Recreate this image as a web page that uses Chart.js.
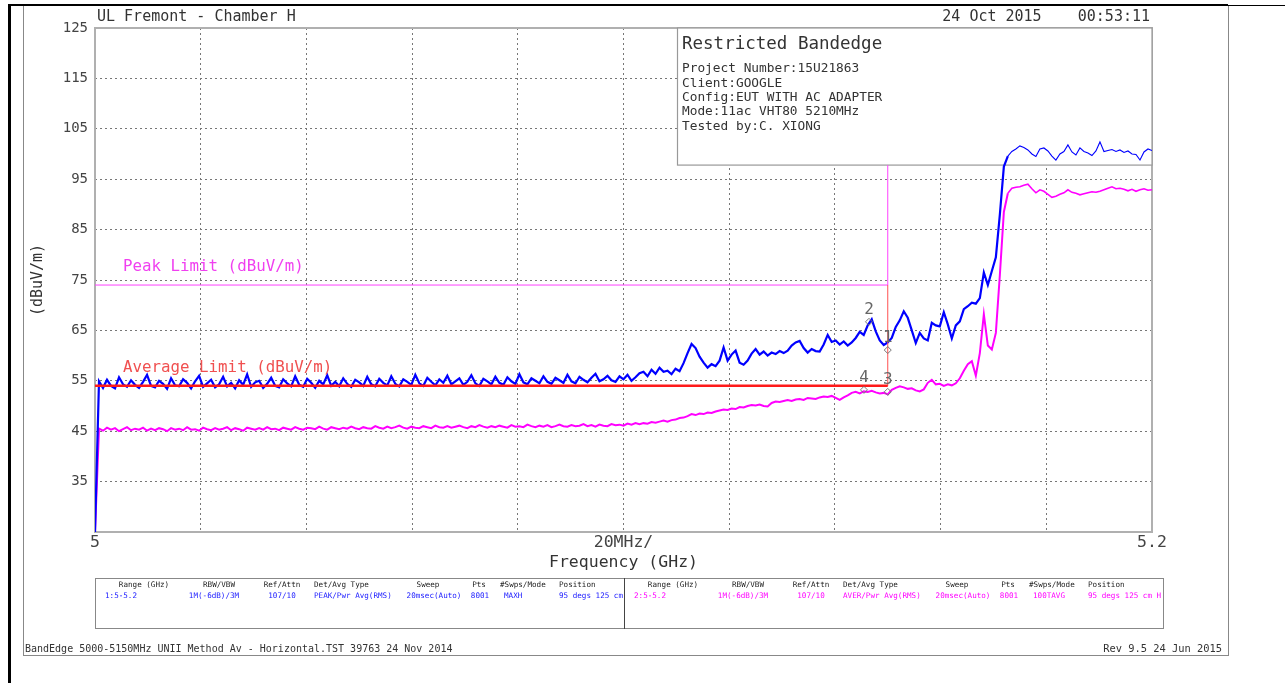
<!DOCTYPE html>
<html>
<head>
<meta charset="utf-8">
<title>Restricted Bandedge</title>
<script src="https://cdn.jsdelivr.net/npm/chart.js@4.4.1/dist/chart.umd.min.js"></script>
<style>
  html, body { margin: 0; padding: 0; background: #fff; }
  #wrap { width: 1285px; height: 683px; }
</style>
</head>
<body>
<div id="wrap"><canvas id="plot" width="1285" height="683"></canvas></div>
<script>
// sweep span (GHz) and level axis (dBuV/m)
const sweepStart = 5.0, sweepStop = 5.2;
const levelMin = 25, levelMax = 125;

// limits
const peakLimit = 74, avgLimit = 54, bandEdge = 5.15, limitTop = 97.8;

// trace 1: peak, max hold (blue)
const peakTrace = [
  25, 54.9, 53.6, 55.2, 54.0, 53.5, 55.7, 54.3, 53.8, 55.1,
  54.2, 53.6, 54.8, 56.2, 54.0, 53.7, 55.0, 54.4, 53.4, 55.5,
  54.1, 53.9, 55.3, 54.6, 53.5, 54.9, 56.0, 53.8, 54.5, 55.2,
  53.7, 54.3, 55.8, 53.9, 54.6, 53.5, 55.1, 54.2, 56.3, 53.8,
  54.7, 55.0, 53.6, 54.4, 55.6, 54.0, 53.7, 55.3, 54.5, 53.9,
  55.9, 54.2, 53.8, 55.4, 54.6, 53.6, 55.0, 54.3, 56.1, 54.0,
  54.8, 53.9, 55.5, 54.4, 53.8, 55.2, 54.7, 54.0, 55.8, 54.3,
  53.9, 55.4, 54.6, 54.1, 55.9, 54.4, 53.9, 55.3, 54.8, 54.2,
  56.2, 54.5, 54.0, 55.6, 54.8, 54.1, 55.3, 54.6, 56.0, 54.3,
  54.9, 55.5, 54.2, 54.8, 56.1, 54.5, 54.0, 55.4, 54.9, 54.3,
  55.8, 54.6, 54.2, 55.7, 54.9, 54.4, 56.3, 54.7, 54.3, 55.5,
  55.0, 54.5, 55.9, 54.8, 54.4, 55.6, 55.1, 54.6, 56.2, 54.9,
  54.5, 55.8, 55.2, 54.7, 55.6, 56.4, 54.9, 55.3, 56.0, 55.1,
  54.8, 55.9, 55.3, 56.2, 55.0, 55.7, 56.5, 56.8, 55.9, 57.2,
  56.4, 57.6, 56.8, 57.0, 56.3, 57.4, 56.9, 58.5, 60.5, 62.3,
  61.5, 59.8, 58.6, 57.6, 58.3, 57.9, 59.0, 61.6, 59.0, 60.2,
  61.0, 58.6, 58.2, 59.0, 60.4, 61.3, 60.2, 60.8, 60.0, 60.6,
  60.3, 60.9, 60.5, 61.0, 62.0, 62.6, 62.9, 61.5, 60.6, 61.3,
  60.9, 60.8, 62.2, 64.1, 62.7, 63.0, 62.2, 62.8, 62.0, 62.6,
  63.5, 64.7, 64.1, 66.0, 67.2, 64.8, 63.0, 62.1, 62.6, 63.5,
  65.7, 67.0, 68.8, 67.5, 65.0, 62.5, 64.5, 63.4, 63.0, 66.5,
  66.0, 65.8, 68.6, 66.2, 63.4, 66.0, 66.8, 69.2, 69.8, 70.5,
  70.3, 71.4, 76.5, 74.0, 76.8, 79.5, 88.0, 97.5, 99.6, 100.5,
  101.0, 101.6, 101.3, 100.8, 100.0, 99.5, 101.0, 101.2, 100.6, 99.6,
  98.8, 100.0, 100.5, 101.8, 100.4, 99.8, 101.2, 100.5, 100.2, 99.7,
  100.6, 102.4, 100.5, 100.7, 100.9, 100.5, 100.8, 100.3, 100.6, 100.0,
  99.9, 98.8, 100.4, 101.0, 100.7
];

// trace 2: average, 100 sweeps (magenta)
const avgTrace = [
  25, 45.5, 45.1, 45.7, 45.3, 45.6, 45.0, 45.4, 45.8, 45.2,
  45.5, 45.3, 45.7, 45.1, 45.5, 45.2, 45.6, 45.4, 45.0, 45.6,
  45.3, 45.5, 45.2, 45.8, 45.3, 45.4, 45.1, 45.7, 45.4, 45.2,
  45.6, 45.3, 45.5, 45.8, 45.2, 45.6, 45.4, 45.1, 45.7, 45.5,
  45.3, 45.6, 45.3, 45.8, 45.4, 45.5, 45.2, 45.7, 45.5, 45.3,
  45.8, 45.5, 45.3, 45.7, 45.6, 45.4, 45.9, 45.5, 45.3, 45.8,
  45.6, 45.4, 45.7, 45.5, 45.9, 45.6, 45.4, 45.8, 45.6, 45.5,
  46.0, 45.7, 45.5, 45.9, 45.6, 45.8, 46.1, 45.7, 45.5, 45.9,
  45.7, 45.6, 46.0, 45.8, 45.6, 46.1, 45.8, 45.7, 46.0, 45.7,
  45.9, 46.1, 45.8, 45.6, 46.0, 45.8, 46.2, 45.9, 45.7, 46.0,
  45.8, 46.1, 45.9, 45.7, 46.2, 45.9, 46.0, 45.8, 46.3, 46.0,
  45.8, 46.1, 45.9, 46.2, 45.8, 46.0, 46.3, 46.0, 45.9, 46.2,
  46.0, 46.1, 46.4, 46.0, 46.2, 45.9, 46.3, 46.1, 46.0, 46.4,
  46.2, 46.3, 46.1, 46.5, 46.3, 46.6, 46.4, 46.6, 46.5, 46.8,
  46.7, 46.9, 47.1, 46.9, 47.2, 47.3, 47.6, 47.7, 48.0, 48.4,
  48.2, 48.5, 48.4, 48.7, 48.6, 48.9, 49.1, 49.3, 49.2, 49.5,
  49.4, 49.8, 49.7, 50.0, 50.2, 50.1, 50.3, 50.0, 49.9, 50.6,
  50.9, 50.8, 51.0, 51.2, 51.0, 51.3, 51.4, 51.2, 51.6, 51.5,
  51.4, 51.7, 51.9, 51.8, 52.0, 51.6, 51.2, 51.7, 52.1, 52.6,
  52.8, 52.5, 52.9, 52.8, 53.0, 52.7, 52.5, 52.6, 52.3, 53.2,
  53.6, 53.9, 53.7, 53.4, 53.5, 53.1, 52.9, 53.3, 54.6, 55.2,
  54.3, 54.4, 54.0, 54.3, 54.1, 54.5, 55.5, 57.0, 58.3, 58.9,
  56.0, 60.5, 68.2, 62.0, 61.2, 64.5, 76.0, 88.5, 92.2, 93.2,
  93.4, 93.5, 93.8, 94.0, 93.1, 92.3, 92.9, 92.6, 92.0, 91.4,
  91.6, 92.0, 92.3, 92.9, 92.4, 92.2, 91.9, 92.1, 92.3, 92.5,
  92.4, 92.6, 92.9, 93.2, 93.5, 93.1, 93.2, 93.0, 92.7, 93.0,
  92.6, 92.9, 93.1, 92.8, 92.9
];

// markers
const markerName = ['1', '2', '3', '4'];
const markerFreq = [5.15, 5.14645, 5.15, 5.1455];
const markerLevel = [61.1, 66.7, 52.8, 53.2];

// tick labels
const xTickAt = [5.0, 5.1, 5.2];
const xTickText = ['5', '20MHz/', '5.2'];

// text blocks
const headerLeft = 'UL Fremont - Chamber H';
const headerRight = '24 Oct 2015    00:53:11';
const infoTitle = 'Restricted Bandedge';
const infoLines = ['Project Number:15U21863', 'Client:GOOGLE', 'Config:EUT WITH AC ADAPTER',
  'Mode:11ac VHT80 5210MHz', 'Tested by:C. XIONG'];
const tableHeads = ['Range (GHz)', 'RBW/VBW', 'Ref/Attn', 'Det/Avg Type', 'Sweep', 'Pts', '#Swps/Mode', 'Position'];
const trace1Row = ['1:5-5.2', '1M(-6dB)/3M', '107/10', 'PEAK/Pwr Avg(RMS)', '20msec(Auto)', '8001', 'MAXH', '95 degs 125 cm'];
const trace2Row = ['2:5-5.2', '1M(-6dB)/3M', '107/10', 'AVER/Pwr Avg(RMS)', '20msec(Auto)', '8001', '100TAVG', '95 degs 125 cm H'];
const footerLeft = 'BandEdge 5000-5150MHz UNII Method Av - Horizontal.TST 39763 24 Nov 2014';
const footerRight = 'Rev 9.5 24 Jun 2015';

const MONO = '"DejaVu Sans Mono", "Liberation Mono", monospace';
const BLUE = '#0000ff', MAGENTA = '#ff00ff';

const sweepFreq = (n, i) => sweepStart + i * (sweepStop - sweepStart) / (n - 1);
const toPoints = (arr) => arr.map((v, i) => ({ x: sweepFreq(arr.length, i), y: v }));

function txt(ctx, s, x, y, size, color, align) {
  ctx.font = size + 'px ' + MONO;
  ctx.fillStyle = color;
  ctx.textAlign = align || 'left';
  ctx.textBaseline = 'middle';
  ctx.fillText(s, x, y);
}

function line(ctx, x1, y1, x2, y2, color, w) {
  ctx.beginPath();
  ctx.strokeStyle = color;
  ctx.lineWidth = w;
  ctx.moveTo(x1, y1);
  ctx.lineTo(x2, y2);
  ctx.stroke();
}

// page furniture drawn around the plot
const plotterFrame = {
  id: 'plotterFrame',
  beforeDraw(chart) {
    const ctx = chart.ctx;
    ctx.save();
    ctx.fillStyle = '#fff';
    ctx.fillRect(0, 0, chart.width, chart.height);
    // outer frames
    ctx.strokeStyle = '#888';
    ctx.lineWidth = 1;
    ctx.strokeRect(23.5, 5.5, 1205, 650);
    line(ctx, 8, 5, 1228, 5, '#000', 2);
    line(ctx, 1228, 5.5, 1285, 5.5, '#000', 1);
    line(ctx, 9.5, 4, 9.5, 683, '#000', 3);

    txt(ctx, headerLeft, 97, 17, 15, '#333');
    txt(ctx, headerRight, 1150, 17, 15, '#333', 'right');

    // settings table
    ctx.strokeStyle = '#888';
    ctx.lineWidth = 1;
    ctx.strokeRect(95.5, 578.5, 1068, 50);
    line(ctx, 624.5, 578, 624.5, 629, '#444', 1);
    const cols = [
      { h: 144, ha: 'center', v: 105, va: 'left' },
      { h: 219, ha: 'center', v: 214, va: 'center' },
      { h: 282, ha: 'center', v: 282, va: 'center' },
      { h: 314, ha: 'left', v: 314, va: 'left' },
      { h: 428, ha: 'center', v: 434, va: 'center' },
      { h: 479, ha: 'center', v: 480, va: 'center' },
      { h: 500, ha: 'left', v: 504, va: 'left' },
      { h: 559, ha: 'left', v: 559, va: 'left' }
    ];
    const half = 529;
    cols.forEach((c, i) => {
      txt(ctx, tableHeads[i], c.h, 585, 7.6, '#222', c.ha);
      txt(ctx, tableHeads[i], c.h + half, 585, 7.6, '#222', c.ha);
      txt(ctx, trace1Row[i], c.v, 596, 7.6, '#2020ff', c.va);
      txt(ctx, trace2Row[i], c.v + half, 596, 7.6, MAGENTA, c.va);
    });

    txt(ctx, footerLeft, 25, 649, 10, '#333');
    txt(ctx, footerRight, 1222, 649, 10.4, '#333', 'right');
    ctx.restore();
  },
  beforeDatasetsDraw(chart) {
    const ctx = chart.ctx;
    const a = chart.chartArea;
    ctx.save();
    // plot frame
    ctx.strokeStyle = '#b0b0b0';
    ctx.lineWidth = 2;
    ctx.strokeRect(a.left, a.top, a.right - a.left, a.bottom - a.top);
    // info box
    const by = chart.scales.y.getPixelForValue(limitTop);
    ctx.fillStyle = '#fff';
    ctx.fillRect(677, a.top, a.right - 677, by - a.top);
    ctx.strokeStyle = '#999';
    ctx.lineWidth = 1.2;
    ctx.strokeRect(677.5, a.top, a.right - 677.5, by - a.top);
    txt(ctx, infoTitle, 682, 44, 17.5, '#333');
    infoLines.forEach((s, i) => txt(ctx, s, 682, 69 + i * 14.3, 12.8, '#333'));
    ctx.restore();
  },
  afterDatasetsDraw(chart) {
    const ctx = chart.ctx;
    const xs = chart.scales.x, ys = chart.scales.y;
    ctx.save();
    const lx = xs.getPixelForValue(sweepStart) + 28;
    txt(ctx, 'Peak Limit (dBuV/m)', lx, ys.getPixelForValue(peakLimit) - 18, 15.8, '#f040f0');
    txt(ctx, 'Average Limit (dBuV/m)', lx, ys.getPixelForValue(avgLimit) - 18, 15.8, '#f05050');
    markerName.forEach((m, i) => {
      txt(ctx, m, xs.getPixelForValue(markerFreq[i]), ys.getPixelForValue(markerLevel[i]) - 12, 16, '#666', 'center');
    });
    ctx.restore();
  }
};

const limitPeak = [{ x: sweepStart, y: peakLimit }, { x: bandEdge, y: peakLimit }, { x: bandEdge, y: limitTop }];
const limitAvg = [{ x: sweepStart, y: avgLimit }, { x: bandEdge, y: avgLimit }];
const limitEdge = [{ x: bandEdge, y: avgLimit }, { x: bandEdge, y: peakLimit }];
const markerPts = markerFreq.map((f, i) => ({ x: f, y: markerLevel[i] }));

// the noisy part of each trace is a dense band, the top plateau a thin line
const bandWidth = (thick, thin) => (c) => (c.p0.parsed.x > 5.172 ? thin : thick);

new Chart(document.getElementById('plot'), {
  type: 'line',
  data: {
    datasets: [
      { data: markerPts, showLine: false, pointStyle: 'rectRot', pointRadius: 3.5,
        borderColor: '#777', backgroundColor: 'rgba(0,0,0,0)', borderWidth: 1 },
      { data: limitAvg, borderColor: '#ff1a1a', borderWidth: 2.5, pointRadius: 0 },
      { data: limitEdge, borderColor: '#ff5050', borderWidth: 1, pointRadius: 0 },
      { data: limitPeak, borderColor: '#ff40ff', borderWidth: 1, pointRadius: 0 },
      { data: toPoints(peakTrace), borderColor: BLUE, borderWidth: 2.2, pointRadius: 0,
        segment: { borderWidth: bandWidth(2.2, 1.1) } },
      { data: toPoints(avgTrace), borderColor: MAGENTA, borderWidth: 2, pointRadius: 0,
        segment: { borderWidth: bandWidth(2, 1.6) } }
    ]
  },
  options: {
    responsive: false,
    animation: false,
    events: [],
    layout: { padding: { left: 28, top: 28, right: 133, bottom: 106 } },
    plugins: { legend: { display: false }, tooltip: { enabled: false } },
    elements: { line: { tension: 0 } },
    scales: {
      x: {
        type: 'linear', min: sweepStart, max: sweepStop,
        afterFit: (s) => { s.height = 45; },
        grid: { color: '#777', lineWidth: 1, drawTicks: false },
        border: { display: false, dash: [2, 3] },
        ticks: {
          stepSize: 0.02, autoSkip: false, maxRotation: 0, padding: 1,
          color: '#444', font: { family: MONO, size: 16.5 },
          callback: (v) => {
            const i = xTickAt.findIndex((t) => Math.abs(t - v) < 1e-6);
            return i < 0 ? '' : xTickText[i];
          }
        },
        title: { display: true, text: 'Frequency (GHz)', color: '#333',
          font: { family: MONO, size: 16.5 }, padding: { top: 0, bottom: 4 } }
      },
      y: {
        min: levelMin, max: levelMax,
        afterFit: (s) => { s.width = 67; },
        grid: { color: '#777', lineWidth: 1, drawTicks: false },
        border: { display: false, dash: [2, 3] },
        ticks: {
          stepSize: 10, padding: 7, color: '#444', font: { family: MONO, size: 14 },
          callback: (v) => (v === levelMin ? '' : v)
        },
        title: { display: true, text: '(dBuV/m)', color: '#333',
          font: { family: MONO, size: 15 }, padding: { top: 1, bottom: 0 } }
      }
    }
  },
  plugins: [plotterFrame]
});
</script>
</body>
</html>
